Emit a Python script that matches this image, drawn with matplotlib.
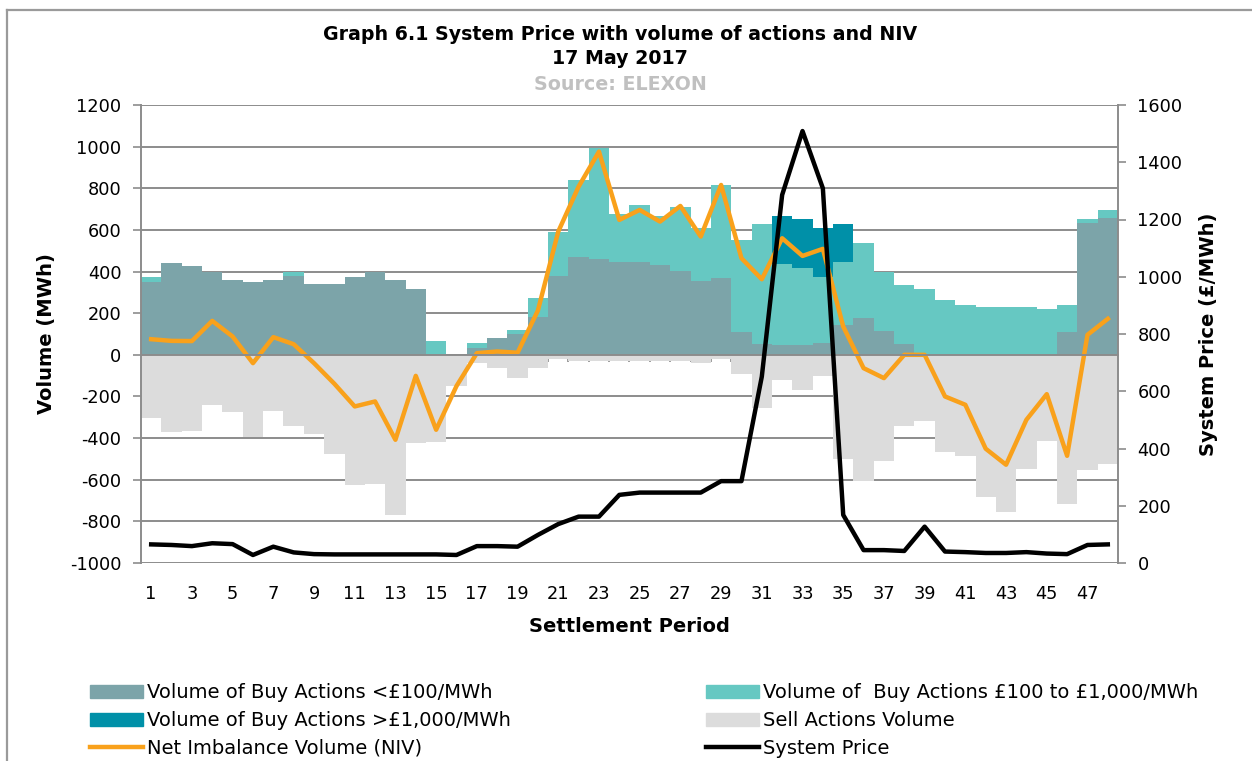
import matplotlib.pyplot as plt
from matplotlib.patches import Patch
from matplotlib.lines import Line2D

plt.rcParams["axes.unicode_minus"] = False

periods = list(range(1, 49))

buy_low = [352, 440, 428, 400, 360, 352, 357, 381, 342, 339, 373, 397, 360, 318, 0, 0,
           32, 80, 100, 184, 381, 469, 462, 445, 448, 432, 403, 355, 368, 112, 51, 45,
           48, 59, 144, 176, 115, 51, 0, 0, 0, 0, 0, 0, 0, 109, 632, 656]
buy_mid = [24, 0, 0, 0, 0, 0, 0, 19, 0, 0, 0, 0, 0, 0, 64, 0,
           24, 0, 20, 91, 208, 371, 533, 232, 274, 237, 306, 253, 448, 440, 576, 392,
           368, 314, 304, 360, 285, 285, 315, 264, 240, 229, 229, 229, 221, 128, 19, 40]
buy_high = [0] * 31 + [232, 235, 235, 179] + [0] * 13
sell = [-304, -373, -365, -240, -277, -395, -272, -344, -381, -477, -627, -619, -768, -424, -419, -152,
        -40, -64, -112, -64, -20, -30, -30, -30, -30, -30, -30, -40, -20, -91, -256, -120,
        -168, -104, -501, -605, -512, -341, -317, -467, -485, -683, -757, -547, -416, -717, -552, -525]
niv = [75, 67, 66, 163, 88, -40, 85, 51, -40, -139, -248, -224, -408, -101, -360, -150,
       8, 16, 10, 213, 592, 808, 976, 648, 696, 640, 715, 568, 816, 464, 363, 560,
       475, 509, 136, -64, -112, 0, 0, -200, -240, -451, -528, -312, -189, -485, 96, 173]
system_price = [65, 63, 59, 69, 66, 28, 57, 37, 31, 30, 30, 30, 30, 30, 30, 28,
                59, 59, 57, 98, 136, 162, 162, 238, 246, 246, 246, 246, 286, 286, 651, 1286,
                1509, 1309, 168, 45, 45, 42, 127, 40, 38, 35, 35, 38, 33, 31, 63, 65]

c_low = "#7ca4a9"
c_mid = "#66c8c2"
c_high = "#0090a8"
c_sell = "#dcdcdc"
c_niv = "#f9a11b"
c_grid = "#8c8c8c"

W, H = 1252, 761
fig = plt.figure(figsize=(W / 100, H / 100), dpi=100)
# outer frame (only left and top edges are visible in the original)
fig.add_artist(Line2D([7 / W, 7 / W], [0, 1 - 10 / H], color="#9a9a9a", linewidth=1.6))
fig.add_artist(Line2D([7 / W, 1], [1 - 10 / H, 1 - 10 / H], color="#9a9a9a", linewidth=1.6))

ax = fig.add_axes([141 / W, 1 - 563 / H, 977 / W, 458 / H])

ax.bar(periods, buy_low, width=1.0, color=c_low, zorder=2)
bot = [a for a in buy_low]
ax.bar(periods, buy_mid, width=1.0, bottom=bot, color=c_mid, zorder=2)
bot = [a + b for a, b in zip(buy_low, buy_mid)]
ax.bar(periods, buy_high, width=1.0, bottom=bot, color=c_high, zorder=2)
ax.bar(periods, sell, width=1.0, color=c_sell, zorder=2)
ax.plot(periods, niv, color=c_niv, linewidth=3.2, zorder=3)

ax.set_xlim(0.5, 48.5)
ax.set_ylim(-1000, 1200)
ax.set_yticks(range(-1000, 1201, 200))
ax.grid(axis="y", color=c_grid, linewidth=1.4)
ax.set_axisbelow(True)
ax.set_xticks(periods)
ax.set_xticklabels([str(p) if p % 2 == 1 else "" for p in periods])
ax.set_xticks([p + 0.5 for p in periods[:-1]], minor=True)
ax.spines["bottom"].set_position(("data", 0))
ax.spines["bottom"].set_zorder(4)
for s in ["top", "right"]:
    ax.spines[s].set_visible(False)
for s in ["left", "bottom"]:
    ax.spines[s].set_color(c_grid)
    ax.spines[s].set_linewidth(1.4)
ax.tick_params(axis="x", which="major", length=0, pad=166, labelsize=12.8)
ax.tick_params(axis="x", which="minor", direction="out", length=5, color=c_grid, width=1.2)
ax.tick_params(axis="y", direction="out", length=6, color=c_grid, width=1.2, pad=8, labelsize=12.8)
ax.set_ylabel("Volume (MWh)", fontsize=14, fontweight="bold", labelpad=10)
fig.text(629 / W, 1 - 627 / H, "Settlement Period", ha="center", va="center",
         fontsize=14, fontweight="bold")

ax2 = ax.twinx()
ax2.plot(periods, system_price, color="black", linewidth=3.2, zorder=5)
ax2.set_ylim(0, 1600)
ax2.set_yticks(range(0, 1601, 200))
for s in ["top", "left", "bottom"]:
    ax2.spines[s].set_visible(False)
ax2.spines["right"].set_color(c_grid)
ax2.spines["right"].set_linewidth(1.4)
ax2.tick_params(axis="y", direction="out", length=6, color=c_grid, width=1.2, pad=8, labelsize=12.8)
ax2.set_ylabel("System Price (£/MWh)", fontsize=14, fontweight="bold", labelpad=12)

fig.text(620 / W, 1 - 34 / H, "Graph 6.1 System Price with volume of actions and NIV",
         ha="center", va="center", fontsize=13.7, fontweight="bold")
fig.text(620 / W, 1 - 59 / H, "17 May 2017", ha="center", va="center", fontsize=13.7,
         fontweight="bold")
fig.text(620 / W, 1 - 85 / H, "Source: ELEXON", ha="center", va="center", fontsize=13.7,
         fontweight="bold", color="#c0c0c0")

leg_kw = dict(loc="upper left", frameon=False, fontsize=14, handlelength=2.75,
              handleheight=0.65, handletextpad=0.2, labelspacing=0.46,
              borderpad=0, borderaxespad=0)
left_handles = [Patch(color=c_low), Patch(color=c_high), Line2D([], [], color=c_niv, linewidth=3.2)]
left_labels = ["Volume of Buy Actions <£100/MWh", "Volume of Buy Actions >£1,000/MWh",
               "Net Imbalance Volume (NIV)"]
right_handles = [Patch(color=c_mid), Patch(color=c_sell), Line2D([], [], color="black", linewidth=3.2)]
right_labels = ["Volume of  Buy Actions £100 to £1,000/MWh", "Sell Actions Volume", "System Price"]
fig.legend(left_handles, left_labels, bbox_to_anchor=(90 / W, 1 - 683 / H), **leg_kw)
fig.legend(right_handles, right_labels, bbox_to_anchor=(706 / W, 1 - 683 / H), **leg_kw)

fig.savefig("out.png", dpi=100)
